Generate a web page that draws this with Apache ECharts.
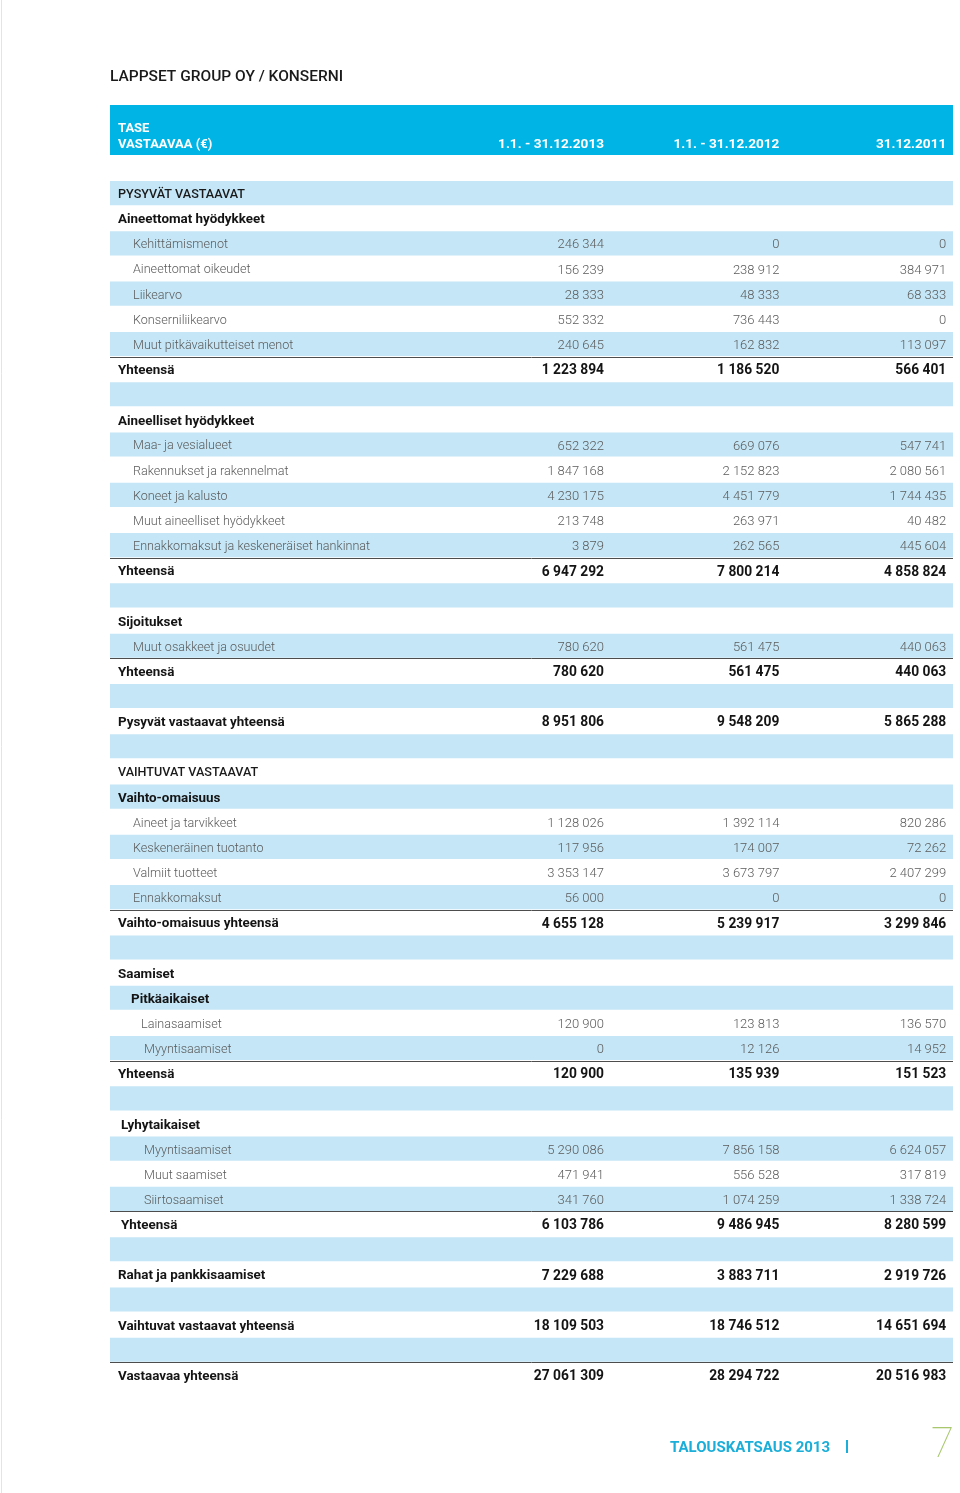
<!DOCTYPE html>
<html>
<head>
<meta charset="utf-8">
<script src="https://cdn.jsdelivr.net/npm/echarts@6/dist/echarts.min.js"></script>
<style>
html,body{margin:0;padding:0;background:#fff;}
#chart{width:960px;height:1493px;}
</style>
</head>
<body>
<div id="chart"></div>
<script>
// ---------------- DATA ----------------
const pageTitle = 'LAPPSET GROUP OY / KONSERNI';
const headerTitle = ['TASE', 'VASTAAVAA (€)'];
const columnLabels = ['1.1. - 31.12.2013', '1.1. - 31.12.2012', '31.12.2011'];
const footerText = 'TALOUSKATSAUS 2013';
const pageNumber = '7';

const rowLabels = [
  'PYSYVÄT VASTAAVAT', 'Aineettomat hyödykkeet', 'Kehittämismenot', 'Aineettomat oikeudet', 'Liikearvo',
  'Konserniliikearvo', 'Muut pitkävaikutteiset menot', 'Yhteensä', '',
  'Aineelliset hyödykkeet', 'Maa- ja vesialueet', 'Rakennukset ja rakennelmat', 'Koneet ja kalusto',
  'Muut aineelliset hyödykkeet', 'Ennakkomaksut ja keskeneräiset hankinnat', 'Yhteensä', '',
  'Sijoitukset', 'Muut osakkeet ja osuudet', 'Yhteensä', '',
  'Pysyvät vastaavat yhteensä', '',
  'VAIHTUVAT VASTAAVAT', 'Vaihto-omaisuus', 'Aineet ja tarvikkeet', 'Keskeneräinen tuotanto', 'Valmiit tuotteet',
  'Ennakkomaksut', 'Vaihto-omaisuus yhteensä', '',
  'Saamiset', 'Pitkäaikaiset', 'Lainasaamiset', 'Myyntisaamiset', 'Yhteensä', '',
  'Lyhytaikaiset', 'Myyntisaamiset', 'Muut saamiset', 'Siirtosaamiset', 'Yhteensä', '',
  'Rahat ja pankkisaamiset', '',
  'Vaihtuvat vastaavat yhteensä', '',
  'Vastaavaa yhteensä'
];
// S = section, H = heading, I = item, T = total, B = blank
const rowKinds = [
  'S','H','I','I','I','I','I','T','B',
  'H','I','I','I','I','I','T','B',
  'H','I','T','B',
  'T','B',
  'S','H','I','I','I','I','T','B',
  'H','H','I','I','T','B',
  'H','I','I','I','T','B',
  'T','B',
  'T','B',
  'T'
];
const values2013 = [
  null,null,246344,156239,28333,552332,240645,1223894,null,
  null,652322,1847168,4230175,213748,3879,6947292,null,
  null,780620,780620,null,
  8951806,null,
  null,null,1128026,117956,3353147,56000,4655128,null,
  null,null,120900,0,120900,null,
  null,5290086,471941,341760,6103786,null,
  7229688,null,
  18109503,null,
  27061309
];
const values2012 = [
  null,null,0,238912,48333,736443,162832,1186520,null,
  null,669076,2152823,4451779,263971,262565,7800214,null,
  null,561475,561475,null,
  9548209,null,
  null,null,1392114,174007,3673797,0,5239917,null,
  null,null,123813,12126,135939,null,
  null,7856158,556528,1074259,9486945,null,
  3883711,null,
  18746512,null,
  28294722
];
const values2011 = [
  null,null,0,384971,68333,0,113097,566401,null,
  null,547741,2080561,1744435,40482,445604,4858824,null,
  null,440063,440063,null,
  5865288,null,
  null,null,820286,72262,2407299,0,3299846,null,
  null,null,136570,14952,151523,null,
  null,6624057,317819,1338724,8280599,null,
  2919726,null,
  14651694,null,
  20516983
];

// ---------------- LAYOUT / STYLE ----------------
const FONT = 'Roboto';
const CYAN = '#00b5e5';
const STRIPE = '#c4e6f6';
const TABLE_LEFT = 110, TABLE_RIGHT = 953;
const colRight = [58.6, 79.4, 99.2];           // % of table width (value axis 0..100)
const labelIndentDefault = { S: 8, H: 8, T: 8, I: 23, B: 8 };
const labelIndentOverride = { 32: 21, 33: 31, 34: 34, 37: 11, 38: 34, 39: 34, 40: 34, 41: 11 };
const underlineRows = [6, 14, 18, 28, 34, 40, 46];
const TEXT_DY = 1.8;

function fmt(v) {
  return String(v).replace(/\B(?=(\d{3})+(?!\d))/g, ' ');
}
function textStyleFor(kind, isValue) {
  if (kind === 'I') return { fill: '#5b5b5b', fontWeight: 300, fontSize: isValue ? 13 : 12.6 };
  if (kind === 'S') return { fill: '#1a1a1a', fontWeight: 500, fontSize: 12.6 };
  return { fill: '#141414', fontWeight: 'bold', fontSize: isValue ? 13.8 : 13.4 };
}

const rowIdx = rowLabels.map((_, i) => i);

const chart = echarts.init(document.getElementById('chart'), null, { renderer: 'canvas' });

const labelSeries = {
  type: 'custom',
  clip: false,
  silent: true,
  z: 2,
  data: rowIdx.map(i => [0, i]),
  encode: { x: 0, y: 1 },
  renderItem: function (params, api) {
    const i = api.value(1);
    const c = api.coord([0, i]);
    const bh = api.size([0, 1])[1];
    const cs = params.coordSys;
    const kind = rowKinds[i];
    const children = [];
    if (i % 2 === 0) {
      children.push({
        type: 'rect',
        shape: { x: cs.x, y: c[1] - bh / 2 + 0.5, width: cs.width, height: bh - 1 },
        style: { fill: STRIPE }
      });
    }
    if (underlineRows.indexOf(i) >= 0) {
      const yy = Math.round(c[1] + bh / 2) + 0.5;
      children.push({
        type: 'line',
        shape: { x1: cs.x, y1: yy, x2: cs.x + cs.width, y2: yy },
        style: { stroke: '#4d4d4d', lineWidth: 1 }
      });
    }
    if (rowLabels[i]) {
      const ind = (labelIndentOverride[i] !== undefined) ? labelIndentOverride[i] : labelIndentDefault[kind];
      const ts = textStyleFor(kind, false);
      children.push({
        type: 'text',
        x: cs.x + ind,
        y: c[1] + TEXT_DY,
        style: {
          text: rowLabels[i],
          fill: ts.fill,
          fontFamily: FONT,
          fontSize: ts.fontSize,
          fontWeight: ts.fontWeight,
          align: 'left',
          verticalAlign: 'middle'
        }
      });
    }
    return { type: 'group', children: children };
  }
};

function valueSeries(values, k) {
  return {
    type: 'custom',
    clip: false,
    silent: true,
    z: 3,
    data: values.map((v, i) => [colRight[k], i, v]).filter(d => d[2] !== null),
    encode: { x: 0, y: 1 },
    renderItem: function (params, api) {
      const i = api.value(1);
      const v = api.value(2);
      const c = api.coord([api.value(0), i]);
      const ts = textStyleFor(rowKinds[i], true);
      return {
        type: 'text',
        x: c[0],
        y: c[1] + TEXT_DY,
        style: {
          text: fmt(v),
          fill: ts.fill,
          fontFamily: FONT,
          fontSize: ts.fontSize,
          fontWeight: ts.fontWeight,
          align: 'right',
          verticalAlign: 'middle'
        }
      };
    }
  };
}

const W = TABLE_RIGHT - TABLE_LEFT;
const headerGraphics = [
  { type: 'line', shape: { x1: 1.5, y1: 0, x2: 1.5, y2: 1493 }, style: { stroke: '#e4e4e4', lineWidth: 1 } },
  { type: 'text', x: 110, y: 77, style: { text: pageTitle, fill: '#1a1a1a', fontFamily: FONT, fontSize: 15.5, fontWeight: 500, align: 'left', verticalAlign: 'middle' } },
  { type: 'rect', shape: { x: TABLE_LEFT, y: 105, width: W, height: 50 }, style: { fill: CYAN } },
  { type: 'text', x: 118, y: 129, style: { text: headerTitle[0], fill: '#fff', fontFamily: FONT, fontSize: 13, fontWeight: 'bold', align: 'left', verticalAlign: 'middle' } },
  { type: 'text', x: 118, y: 145, style: { text: headerTitle[1], fill: '#fff', fontFamily: FONT, fontSize: 13, fontWeight: 'bold', align: 'left', verticalAlign: 'middle' } }
].concat(columnLabels.map((t, k) => ({
  type: 'text', x: TABLE_LEFT + W * colRight[k] / 100, y: 145,
  style: { text: t, fill: '#fff', fontFamily: FONT, fontSize: 13.6, fontWeight: 'bold', align: 'right', verticalAlign: 'middle' }
}))).concat([
  { type: 'text', x: 670, y: 1448, style: { text: footerText, fill: '#1aaed8', fontFamily: FONT, fontSize: 15, fontWeight: 'bold', align: 'left', verticalAlign: 'middle' } },
  { type: 'rect', shape: { x: 846, y: 1440, width: 2, height: 13 }, style: { fill: '#1aaed8' } },
  { type: 'text', x: 954, y: 1446, style: { text: pageNumber, fill: '#a9c86e', fontFamily: FONT, fontSize: 42, fontWeight: 100, align: 'right', verticalAlign: 'middle' } }
]);

chart.setOption({
  animation: false,
  backgroundColor: '#ffffff',
  grid: { left: TABLE_LEFT, right: 960 - TABLE_RIGHT, top: 180.5, height: 1207, containLabel: false },
  xAxis: { type: 'value', min: 0, max: 100, show: false },
  yAxis: { type: 'category', data: rowIdx.map(String), inverse: true, show: false, boundaryGap: true },
  graphic: headerGraphics,
  series: [labelSeries, valueSeries(values2013, 0), valueSeries(values2012, 1), valueSeries(values2011, 2)]
});
</script>
</body>
</html>
